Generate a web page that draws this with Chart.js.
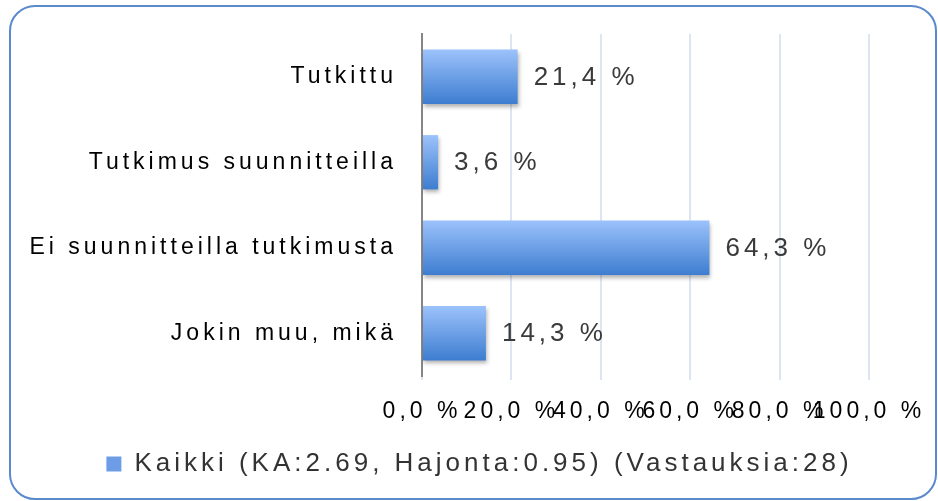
<!DOCTYPE html>
<html>
<head>
<meta charset="utf-8">
<script src="https://cdn.jsdelivr.net/npm/chart.js@4"></script>
<style>
  body { margin: 0; background: #fff; }
  #wrap { position: relative; width: 938px; height: 501px; }
</style>
</head>
<body>
<div id="wrap"><canvas id="chart" width="938" height="501"></canvas></div>
<script>
const categories = ['Tutkittu', 'Tutkimus suunnitteilla', 'Ei suunnitteilla tutkimusta', 'Jokin muu, mikä'];
const values = [21.4, 3.6, 64.3, 14.3];
const xTicks = [0, 20, 40, 60, 80, 100];
const seriesLabel = 'Kaikki (KA:2.69, Hajonta:0.95) (Vastauksia:28)';

const barPct = 0.635;
const fmt = v => v.toFixed(1).replace('.', ',') + ' %';

// canvas letter spacing gets reset whenever the canvas resizes, so set it each pass
const spacing = {
  id: 'spacing',
  beforeUpdate(c) { c.ctx.letterSpacing = '4px'; },
  beforeLayout(c) { c.ctx.letterSpacing = '4px'; },
  // legend is centred under the whole frame, not just the space right of the padding
  afterLayout(c) { c.legend.left += 35; c.legend.right += 35; },
  beforeDraw(c) { c.ctx.letterSpacing = '4px'; }
};

const frame = {
  id: 'frame',
  afterDraw(c) {
    const ctx = c.ctx;
    ctx.save();
    ctx.strokeStyle = '#5a89cc';
    ctx.lineWidth = 2;
    ctx.beginPath();
    ctx.roundRect(10, 6, 926, 493, 25);
    ctx.stroke();
    ctx.restore();
  }
};

const barLook = {
  id: 'barLook',
  beforeDatasetsDraw(c) {
    const ctx = c.ctx;
    ctx.save();
    ctx.shadowColor = 'rgba(0,0,0,0.3)';
    ctx.shadowBlur = 4;
    ctx.shadowOffsetX = 1;
    ctx.shadowOffsetY = 3;
  },
  afterDatasetsDraw(c) {
    const ctx = c.ctx;
    ctx.restore();
    ctx.save();
    ctx.letterSpacing = '4px';
    ctx.font = '26px "Liberation Sans", Arial, sans-serif';
    ctx.fillStyle = '#3a3a3a';
    ctx.textAlign = 'left';
    ctx.textBaseline = 'middle';
    c.getDatasetMeta(0).data.forEach((bar, i) => {
      ctx.fillText(fmt(values[i]), bar.x + 16, bar.y + 1);
    });
    ctx.restore();
  }
};

new Chart(document.getElementById('chart'), {
  type: 'bar',
  data: {
    labels: categories,
    datasets: [{
      label: seriesLabel,
      data: values,
      borderWidth: 0,
      categoryPercentage: 1,
      barPercentage: barPct,
      backgroundColor: (ctx) => {
        const chart = ctx.chart;
        const area = chart.chartArea;
        if (!area || ctx.dataIndex === undefined) return '#6d9de6';
        const y = chart.scales.y.getPixelForValue(ctx.dataIndex);
        const half = (area.bottom - area.top) / categories.length * barPct / 2;
        const g = chart.ctx.createLinearGradient(0, y - half, 0, y + half);
        g.addColorStop(0, '#9cc2fb');
        g.addColorStop(1, '#3d7dd0');
        return g;
      }
    }]
  },
  options: {
    indexAxis: 'y',
    responsive: false,
    animation: false,
    devicePixelRatio: 1,
    layout: { padding: { left: 20, right: 69, top: 34, bottom: 14 } },
    scales: {
      x: {
        min: 0,
        max: 100,
        afterBuildTicks: s => { s.ticks = xTicks.map(v => ({ value: v })); },
        afterFit: s => { s.height = 65; s.paddingLeft = 0; s.paddingRight = 0; },
        grid: { color: '#dce6f2', lineWidth: 2, drawTicks: true, tickLength: 4 },
        border: { display: false },
        ticks: {
          autoSkip: false,
          maxRotation: 0,
          padding: 18,
          color: '#000',
          font: { family: '"Liberation Sans", Arial, sans-serif', size: 23 },
          callback: v => fmt(v)
        }
      },
      y: {
        afterFit: s => { s.width = 402; },
        grid: { display: false },
        border: { display: true, color: '#868686', width: 2 },
        ticks: {
          padding: 17,
          color: '#000',
          font: { family: '"Liberation Sans", Arial, sans-serif', size: 23 }
        }
      }
    },
    plugins: {
      tooltip: { enabled: false },
      legend: {
        position: 'bottom',
        labels: {
          boxWidth: 15,
          boxHeight: 15,
          padding: 10,
          color: '#333',
          font: { family: '"Liberation Sans", Arial, sans-serif', size: 26 },
          generateLabels: chart => {
            const items = Chart.defaults.plugins.legend.labels.generateLabels(chart);
            items.forEach(it => { it.fillStyle = '#6d9de6'; it.lineWidth = 0; it.strokeStyle = 'transparent'; });
            return items;
          }
        }
      }
    }
  },
  plugins: [spacing, barLook, frame]
});
</script>
</body>
</html>
